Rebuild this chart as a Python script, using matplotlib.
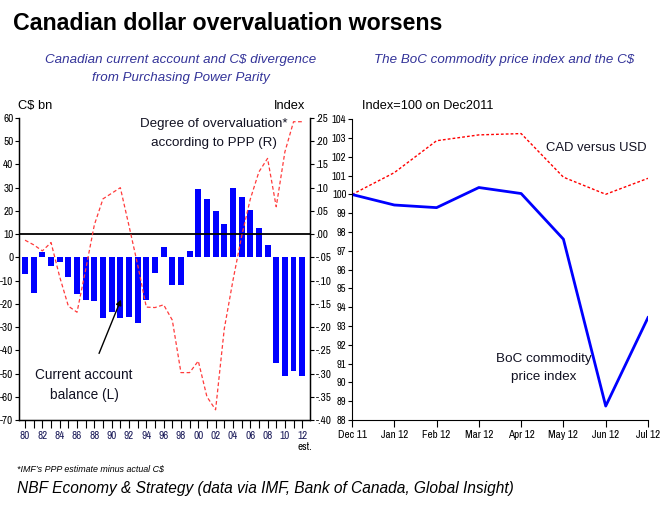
import matplotlib
matplotlib.use("Agg")
import matplotlib.pyplot as plt
from matplotlib import font_manager
import numpy as np

plt.rcParams['font.family'] = ['Liberation Sans', 'DejaVu Sans']

# ---- Left chart data ----
years = list(range(1980, 2013))
current_account = [-7.3, -15.4, 2.3, -3.7, -2.0, -8.5, -15.8, -18.4, -18.8, -26.2,
                   -23.6, -26.2, -25.7, -28.3, -18.4, -6.6, 4.3, -11.9, -11.9, 2.6,
                   29.3, 25.1, 19.8, 14.5, 29.7, 25.9, 20.3, 12.5, 5.3, -45.6,
                   -51.2, -49.0, -51.2]
overvaluation = [-0.013, -0.023, -0.036, -0.018, -0.092, -0.155, -0.168, -0.076, 0.020, 0.076,
                 0.088, 0.100, 0.018, -0.066, -0.157, -0.158, -0.152, -0.185, -0.298, -0.298,
                 -0.273, -0.350, -0.378, -0.204, -0.100, -0.005, 0.075, 0.134, 0.163, 0.059,
                 0.177, 0.242, 0.242]
left_yticks = list(range(-70, 61, 10))
right_yticks = [0.25, 0.20, 0.15, 0.10, 0.05, 0.00, -0.05, -0.10, -0.15, -0.20, -0.25, -0.30, -0.35, -0.40]
right_ylabels = ['.25', '.20', '.15', '.10', '.05', '.00', '-.05', '-.10', '-.15', '-.20',
                 '-.25', '-.30', '-.35', '-.40']

# ---- Right chart data ----
months = ['Dec 11', 'Jan 12', 'Feb 12', 'Mar 12', 'Apr 12', 'May 12', 'Jun 12', 'Jul 12']
cad_usd = [100.0, 101.16, 102.86, 103.17, 103.24, 100.92, 100.01, 100.86]
boc_index = [100.0, 99.44, 99.30, 100.37, 100.05, 97.62, 88.74, 93.45]

# look for an installed condensed sans font for tick labels
cond_family = None
cond_stretch = 'normal'
for f in font_manager.fontManager.ttflist:
    nm = f.name.lower()
    if ('narrow' in nm or 'condensed' in nm) and 'serif' not in nm and 'mono' not in nm:
        cond_family = f.name
        break
if cond_family is None:
    for f in font_manager.fontManager.ttflist:
        if f.stretch in ('condensed', 'semi-condensed', 'extra-condensed', 'ultra-condensed') \
                and 'serif' not in f.name.lower() and 'mono' not in f.name.lower():
            cond_family = f.name
            cond_stretch = f.stretch
            break

if cond_family is not None:
    tick_font = dict(family=[cond_family, 'Liberation Sans', 'DejaVu Sans'], stretch=cond_stretch)
    tsz = 8.0
else:
    tick_font = dict(family=['Liberation Sans', 'DejaVu Sans'])
    tsz = 6.6

W, H = 669, 505
fig = plt.figure(figsize=(W / 100, H / 100), dpi=100)


def fx(px):
    return px / W


def fy(py):
    return 1 - py / H


navy = '#1c1c5a'
sub_col = '#333399'
txt_col = '#111122'

# ---- Left axes ----
axL = fig.add_axes([fx(19), fy(420), fx(310 - 19), (420 - 118) / H])
axL.bar(years, current_account, width=0.68, color='#0000ff', zorder=2)
axL.axhline(10, color='black', lw=1.3, zorder=3)
axL.set_xlim(1979.3, 2012.9)
axL.set_ylim(-70, 60)
axL.set_yticks(left_yticks)
axL.set_yticklabels([str(v) for v in left_yticks], fontsize=tsz, **tick_font)
axL.set_xticks(years)
axL.set_xticklabels([('%02d' % (y % 100)) if (y % 2 == 0) else '' for y in years],
                    fontsize=tsz, color=navy, **tick_font)
axL.tick_params(axis='x', direction='out', length=6, width=0.8, pad=2)
axL.tick_params(axis='y', direction='out', length=3, width=0.8, pad=1)
axL.spines['top'].set_visible(False)
for s in ['left', 'right', 'bottom']:
    axL.spines[s].set_linewidth(1.0)

axR = axL.twinx()
axR.plot(years, overvaluation, color='#ff3b3b', lw=0.9, linestyle=(0, (3, 2)), zorder=4)
axR.set_ylim(-0.40, 0.25)
axR.set_yticks(right_yticks)
axR.set_yticklabels(right_ylabels, fontsize=tsz, **tick_font)
axR.tick_params(axis='y', direction='out', length=3, width=0.8, pad=1)
axR.spines['top'].set_visible(False)
axR.set_zorder(axL.get_zorder() + 1)
axR.patch.set_visible(False)

# ---- Right chart axes ----
ax2 = fig.add_axes([fx(352), fy(420), fx(648 - 352), (420 - 119.3) / H])
xm = np.arange(len(months))
ax2.plot(xm, cad_usd, color='#ff0000', lw=1.0, linestyle=(0, (2, 1.5)))
ax2.plot(xm, boc_index, color='#0000ff', lw=2.0)
ax2.set_xlim(0, len(months) - 1)
ax2.set_ylim(88, 104)
ax2.set_yticks(range(88, 105))
ax2.set_yticklabels([str(v) for v in range(88, 105)], fontsize=tsz - 0.4, **tick_font)
ax2.set_xticks(xm)
ax2.set_xticklabels(months, fontsize=tsz, **tick_font)
ax2.tick_params(axis='x', direction='out', length=5, width=0.8, pad=2)
ax2.tick_params(axis='y', direction='out', length=3, width=0.8, pad=1)
ax2.spines['top'].set_visible(False)
ax2.spines['right'].set_visible(False)

# ---- Texts ----
fig.text(fx(13), fy(24), 'Canadian dollar overvaluation worsens', fontsize=16.7,
         fontweight='bold', va='center', ha='left')
fig.text(fx(181), fy(60), 'Canadian current account and C$ divergence', fontsize=9.6,
         style='italic', color=sub_col, ha='center', va='center')
fig.text(fx(181), fy(78), 'from Purchasing Power Parity', fontsize=9.6,
         style='italic', color=sub_col, ha='center', va='center')
fig.text(fx(504), fy(60), 'The BoC commodity price index and the C$', fontsize=9.6,
         style='italic', color=sub_col, ha='center', va='center')

fig.text(fx(18), fy(106), 'C$ bn', fontsize=9.3, ha='left', va='center')
fig.text(fx(305), fy(106), 'Index', fontsize=9.3, ha='right', va='center')
fig.text(fx(214), fy(124), 'Degree of overvaluation*', fontsize=9.6, ha='center', va='center',
         color=txt_col)
fig.text(fx(214), fy(143), 'according to PPP (R)', fontsize=9.6, ha='center', va='center',
         color=txt_col)
fig.text(fx(84), fy(375), 'Current account', fontsize=9.8, ha='center', va='center',
         color=txt_col)
fig.text(fx(84), fy(395), 'balance (L)', fontsize=9.8, ha='center', va='center',
         color=txt_col)
fig.text(fx(305), fy(447), 'est.', fontsize=tsz, ha='center', va='center', **tick_font)
fig.add_artist(matplotlib.patches.FancyArrowPatch(
    (fx(98), fy(356)), (fx(122), fy(297)), transform=fig.transFigure,
    arrowstyle='-|>', mutation_scale=8, color='black', lw=1.0))

fig.text(fx(362), fy(106), 'Index=100 on Dec2011', fontsize=9.2, ha='left', va='center')
fig.text(fx(546), fy(148), 'CAD versus USD', fontsize=9.4, ha='left', va='center',
         color=txt_col)
fig.text(fx(544), fy(359), 'BoC commodity', fontsize=9.7, ha='center', va='center',
         color=txt_col)
fig.text(fx(544), fy(377), 'price index', fontsize=9.7, ha='center', va='center',
         color=txt_col)

fig.text(fx(17), fy(469), '*IMF\u2019s PPP estimate minus actual C$', fontsize=6.4,
         style='italic', ha='left', va='center')
fig.text(fx(17), fy(488), 'NBF Economy & Strategy (data via IMF, Bank of Canada, Global Insight)',
         fontsize=11.2, style='italic', ha='left', va='center')

fig.savefig('out.png', dpi=100)
